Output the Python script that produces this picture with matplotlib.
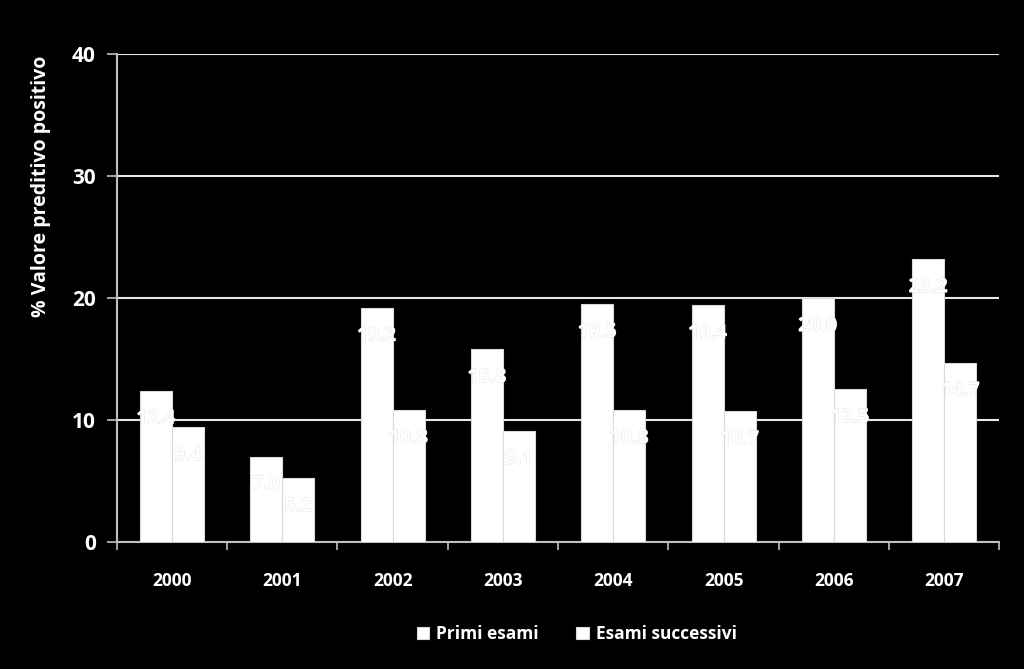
import matplotlib.pyplot as plt
import matplotlib.patheffects as pe
import numpy as np

anni = ["2000", "2001", "2002", "2003", "2004", "2005", "2006", "2007"]
primi_esami = [12.4, 7.0, 19.2, 15.8, 19.5, 19.4, 20.0, 23.2]
esami_successivi = [9.4, 5.2, 10.8, 9.1, 10.8, 10.7, 12.5, 14.7]

plt.rcParams["font.family"] = ["Open Sans", "DejaVu Sans"]
plt.rcParams["font.weight"] = "bold"

fig = plt.figure(figsize=(10.24, 6.69), dpi=100, facecolor="black")
ax = fig.add_axes([0.114, 0.19, 0.862, 0.729], facecolor="black")

x = np.arange(len(anni))
w = 0.29
b1 = ax.bar(x - w / 2, primi_esami, w, color="white", edgecolor="#d9d9d9",
            linewidth=0.8, label="Primi esami", zorder=3)
b2 = ax.bar(x + w / 2, esami_successivi, w, color="white", edgecolor="#d9d9d9",
            linewidth=0.8, label="Esami successivi", zorder=3)

# etichette bianche, quasi invisibili sulle barre bianche
for bars, vals in [(b1, primi_esami), (b2, esami_successivi)]:
    for r, v in zip(bars, vals):
        ax.text(r.get_x() + r.get_width() / 2, v - 2.3, f"{v:.1f}",
                ha="center", va="center", color="white", fontsize=14,
                fontweight="bold", zorder=4,
                path_effects=[pe.withStroke(linewidth=0.6, foreground="#e0e0e0")])

ax.set_ylim(0, 40)
ax.set_xlim(-0.5, len(anni) - 0.5)
ax.set_yticks([0, 10, 20, 30, 40])
ax.yaxis.grid(True, color="#e6e6e6", linewidth=1.5, zorder=0)

ax.set_xticks(x)
ax.set_xticklabels(anni)
ax.set_xticks(np.arange(len(anni) + 1) - 0.5, minor=True)
ax.tick_params(axis="x", which="major", length=0, pad=22,
               colors="white", labelsize=12.5)
ax.tick_params(axis="x", which="minor", length=6, color="#bfbfbf", width=1.2)
ax.tick_params(axis="y", length=7, width=1.2, labelcolor="white",
               color="#bfbfbf", labelsize=15, pad=8)

for s in ["top", "right"]:
    ax.spines[s].set_visible(False)
for s in ["left", "bottom"]:
    ax.spines[s].set_color("#bfbfbf")
    ax.spines[s].set_linewidth(1.5)

ax.set_ylabel("% Valore preditivo positivo", color="white", fontsize=14,
              fontweight="bold")
ax.yaxis.set_label_coords(-0.074, 0.73)

leg = fig.legend(handles=[b1, b2], labels=["Primi esami", "Esami successivi"],
                 loc="center", bbox_to_anchor=(0.563, 0.052), ncol=2,
                 frameon=False, fontsize=12.5, handlelength=0.7, handleheight=0.7,
                 columnspacing=2.2, handletextpad=0.4)
for t in leg.get_texts():
    t.set_color("white")

fig.savefig("out.png", dpi=100, facecolor="black")
